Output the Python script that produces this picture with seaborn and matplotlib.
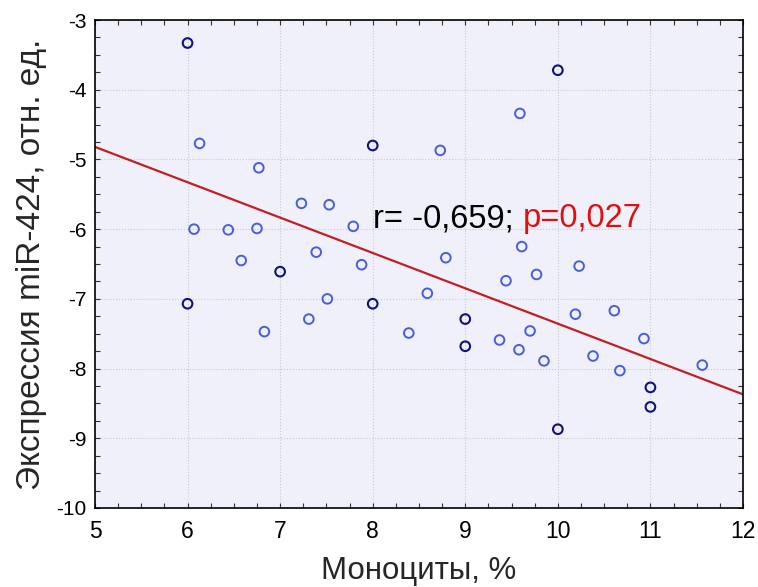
import matplotlib
matplotlib.use('Agg')
import matplotlib.pyplot as plt
from matplotlib.ticker import MultipleLocator
import seaborn as sns

# monocytes (%) vs miR-424 expression
mono_light = [6.13, 6.77, 7.23, 7.53, 7.79, 6.07, 6.44, 6.75, 7.39, 6.58,
              7.88, 7.51, 6.83, 7.31, 8.39, 8.59, 8.73, 8.79, 9.59, 9.61,
              9.44, 9.77, 10.23, 9.37, 9.58, 9.70, 9.85, 10.19, 10.38, 10.61,
              10.67, 10.93, 11.56]
expr_light = [-4.77, -5.12, -5.63, -5.65, -5.96, -6.00, -6.01, -5.99, -6.33, -6.45,
              -6.51, -7.00, -7.47, -7.29, -7.49, -6.92, -4.87, -6.41, -4.34, -6.25,
              -6.74, -6.65, -6.53, -7.59, -7.73, -7.46, -7.89, -7.22, -7.82, -7.17,
              -8.03, -7.57, -7.95]

# darker (overlapping) points
mono_dark = [6, 10, 8, 7, 6, 8, 9, 9, 10, 11, 11]
expr_dark = [-3.33, -3.72, -4.80, -6.61, -7.07, -7.07, -7.29, -7.68, -8.87, -8.27, -8.55]

# regression line ends
fit_x = [5, 12]
fit_y = [-4.82, -8.37]

r_text = 'r= -0,659; '
p_text = 'p=0,027'
x_label = 'Моноциты, %'
y_label = 'Экспрессия miR-424, отн. ед.'

sns.set_style('ticks')
plt.rcParams['font.family'] = ['Liberation Sans', 'DejaVu Sans']
plt.rcParams['axes.unicode_minus'] = False
narrow = ['Liberation Sans Narrow', 'Liberation Sans', 'DejaVu Sans']

fig = plt.figure(figsize=(7.58, 5.87), dpi=100)
ax = fig.add_axes([0.1253, 0.1346, 0.8549, 0.8313])
ax.set_facecolor('#f0f0fa')

sns.lineplot(x=fit_x, y=fit_y, ax=ax, color='#c41e24', linewidth=1.6, zorder=2)
sns.scatterplot(x=mono_light, y=expr_light, ax=ax, marker='o', s=48,
                facecolor='none', edgecolor='#4a5ed6', linewidth=1.4, zorder=3)
sns.scatterplot(x=mono_dark, y=expr_dark, ax=ax, marker='o', s=48,
                facecolor='none', edgecolor='#12127e', linewidth=1.5, zorder=3)

ax.set_xlim(5, 12)
ax.set_ylim(-10, -3)
ax.xaxis.set_major_locator(MultipleLocator(1))
ax.yaxis.set_major_locator(MultipleLocator(1))
ax.xaxis.set_minor_locator(MultipleLocator(0.25))
ax.yaxis.set_minor_locator(MultipleLocator(0.25))
ax.grid(True, which='major', color='#c8c8d2', linestyle=':', linewidth=0.8)
ax.set_axisbelow(True)

ax.tick_params(which='both', direction='in', top=True, right=True,
               length=3.5, width=0.8, colors='#333333', labelcolor='black')
ax.tick_params(axis='y', labelsize=15, pad=6)
ax.tick_params(axis='x', labelsize=16.5, pad=8.5)
for lab in ax.get_xticklabels():
    lab.set_family(narrow)
for sp in ax.spines.values():
    sp.set_linewidth(1.2)
    sp.set_color('black')

ax.set_xlabel(x_label, fontsize=22.5, family=narrow, labelpad=9.5)
ax.set_ylabel(y_label, fontsize=24, labelpad=7)

t1 = ax.text(8.0, -5.97, r_text, fontsize=23.5, color='black', va='baseline', ha='left')
fig.canvas.draw()
bb = t1.get_window_extent()
x_end = ax.transData.inverted().transform((bb.x1, bb.y0))[0]
ax.text(x_end, -5.97, p_text, fontsize=23.5, color='#e01010', va='baseline', ha='left')

plt.savefig('out.png', dpi=100)
